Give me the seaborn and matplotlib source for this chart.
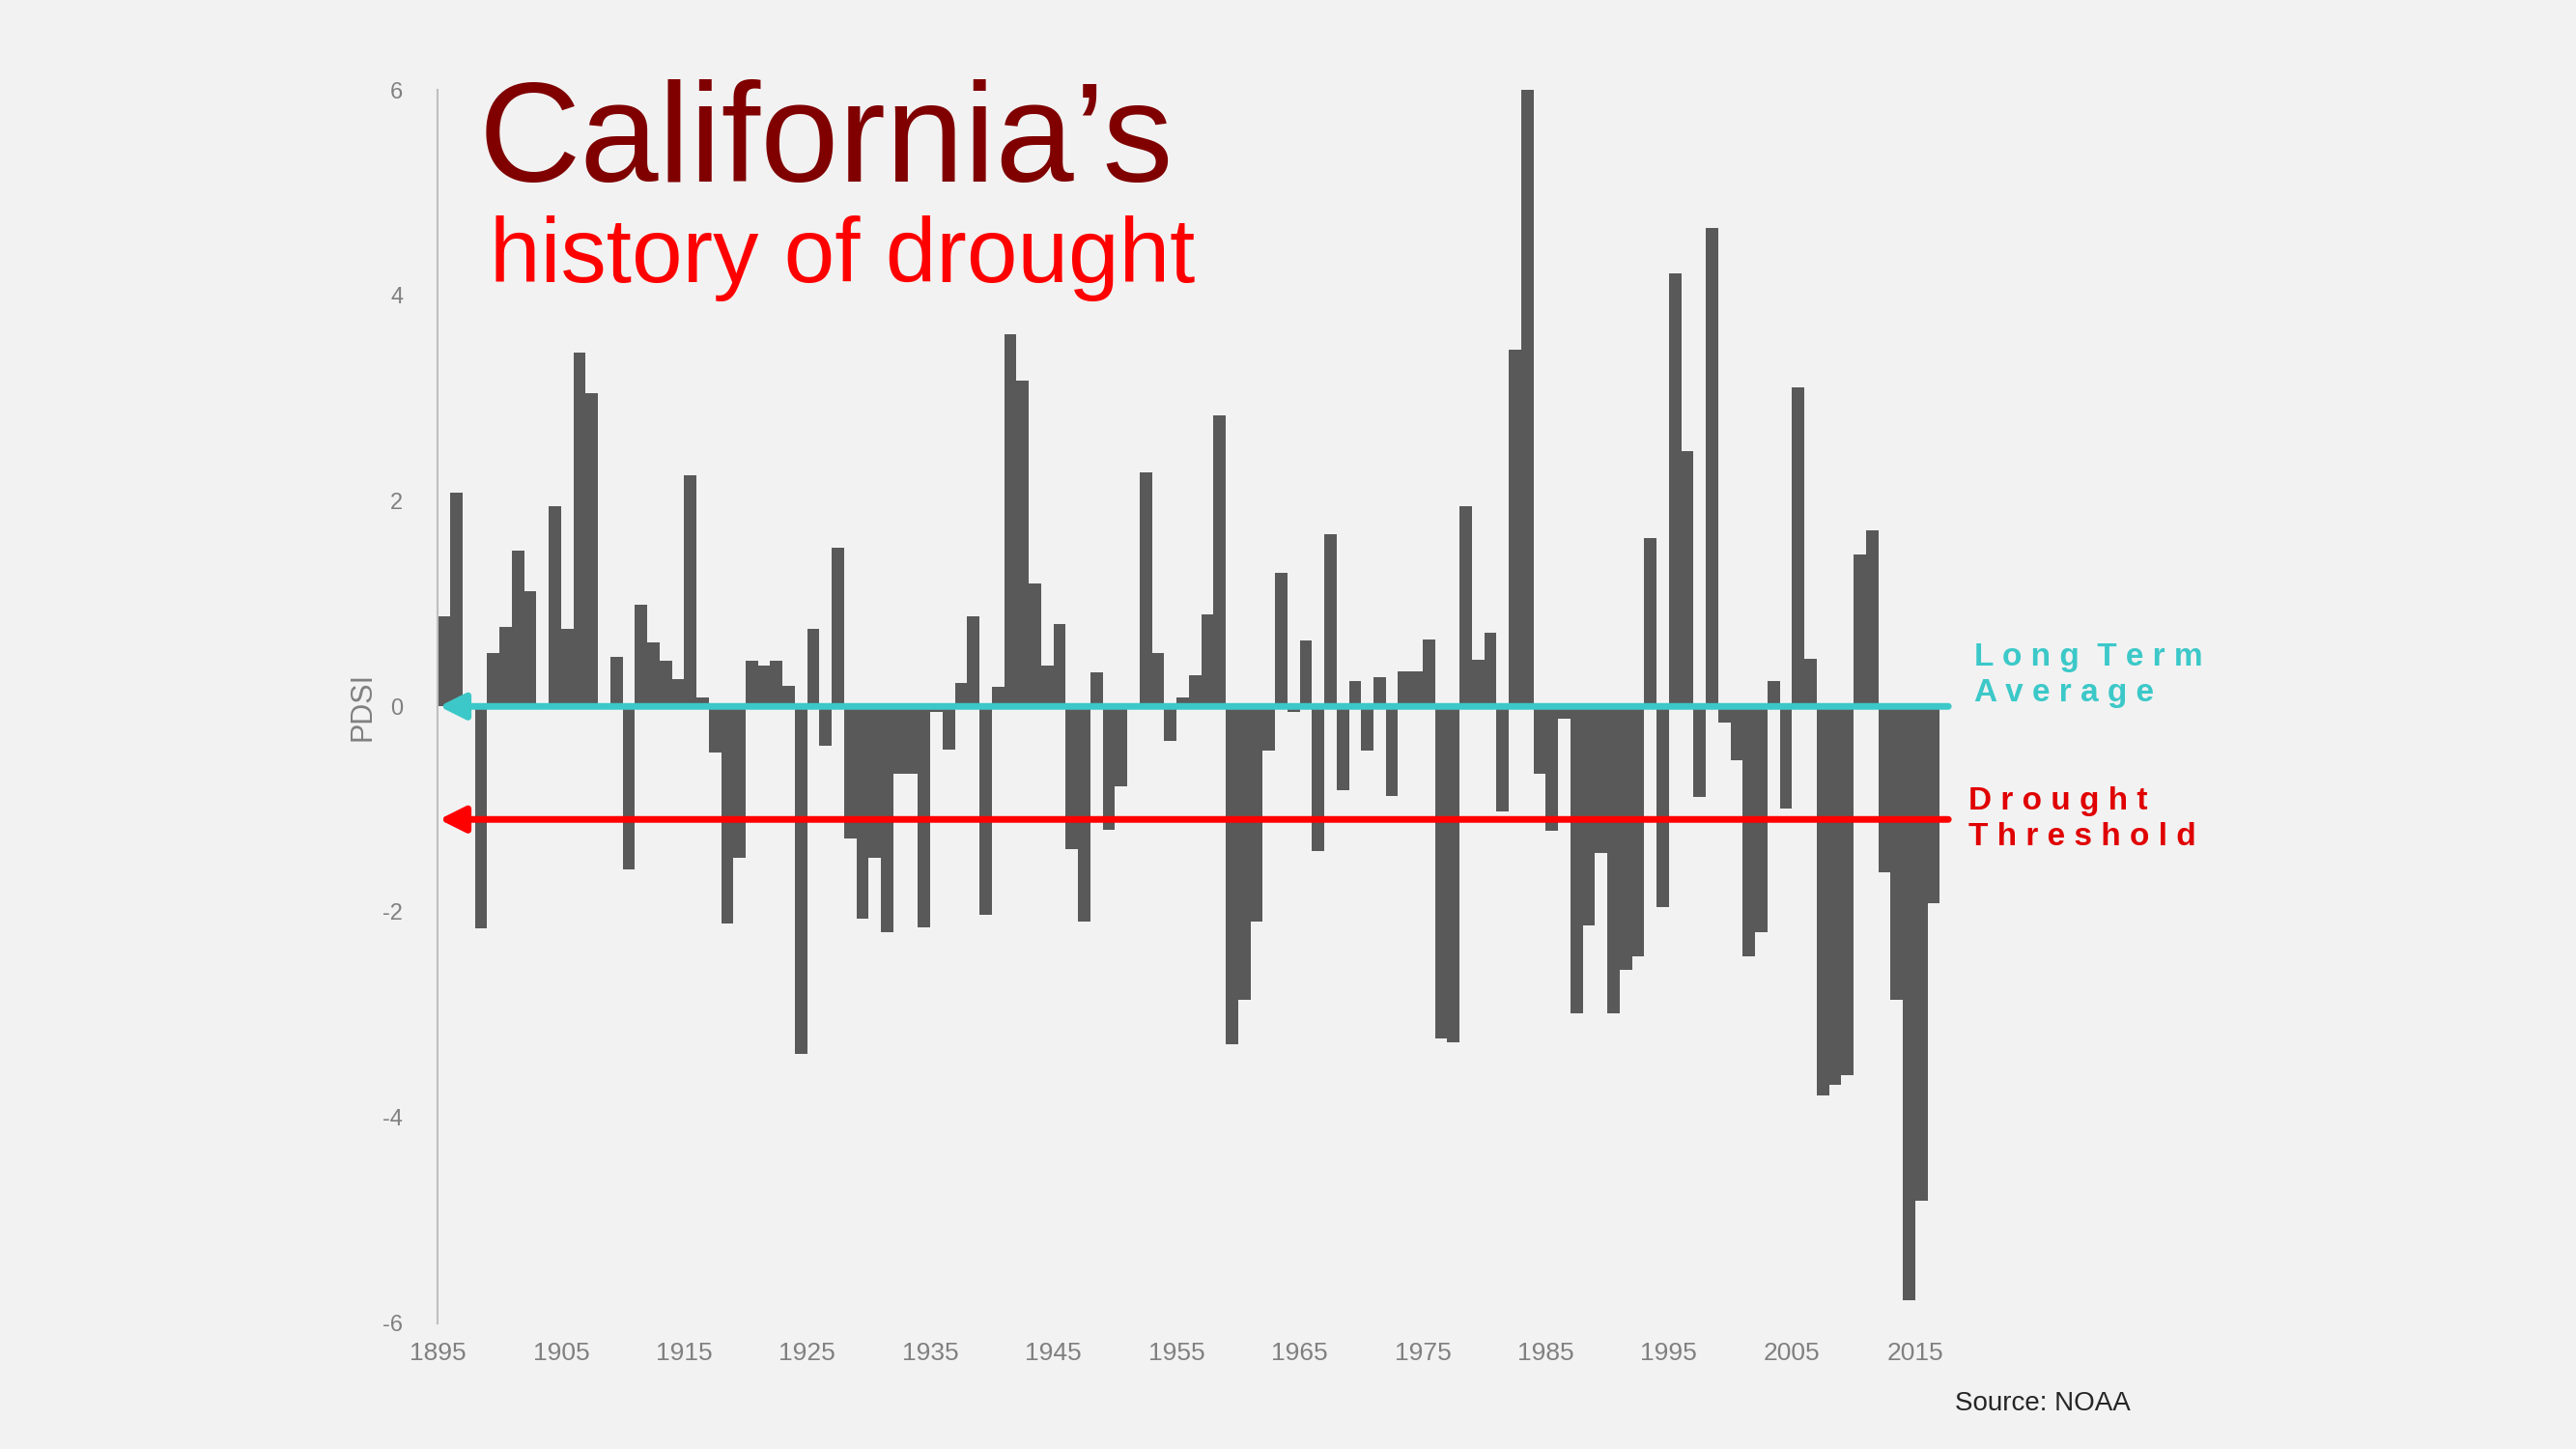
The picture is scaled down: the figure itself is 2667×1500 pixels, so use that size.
"""
California PDSI drought history bar chart.
"""

import numpy as np
import pandas as pd
import matplotlib.pyplot as plt
import seaborn as sns

# --- Annual PDSI values, 1895-2016 ---
YEARS = list(range(1895, 2017))
PDSI = [
    0.88, 2.08, 0.02, -2.16, 0.52, 0.77, 1.52, 1.12, 0.02, 1.95,
    0.75, 3.44, 3.05, 0.02, 0.48, -1.59, 0.99, 0.62, 0.44, 0.27,
    2.25, 0.09, -0.45, -2.11, -1.47, 0.44, 0.40, 0.44, 0.20, -3.38,
    0.75, -0.38, 1.54, -1.29, -2.07, -1.47, -2.20, -0.66, -0.66, -2.15,
    -0.05, -0.42, 0.23, 0.88, -2.03, 0.19, 3.62, 3.17, 1.20, 0.40,
    0.80, -1.39, -2.09, 0.33, -1.20, -0.78, 0.02, 2.28, 0.52, -0.34,
    0.09, 0.30, 0.90, 2.83, -3.29, -2.86, -2.09, -0.43, 1.30, -0.05,
    0.64, -1.41, 1.68, -0.82, 0.25, -0.43, 0.28, -0.87, 0.34, 0.34,
    0.65, -3.23, -3.27, 1.95, 0.45, 0.72, -1.02, 3.47, 6.00, -0.66,
    -1.21, -0.12, -2.99, -2.13, -1.43, -2.99, -2.56, -2.43, 1.64, -1.95,
    4.21, 2.48, -0.88, 4.66, -0.16, -0.52, -2.43, -2.20, 0.25, -0.99,
    3.10, 0.46, -3.79, -3.68, -3.59, 1.48, 1.71, -1.61, -2.86, -5.78,
    -4.81, -1.92,
]
TICK_YEARS = list(range(1895, 2016, 10))
Y_TICKS = [-6, -4, -2, 0, 2, 4, 6]
LONG_TERM_AVG = 0.0
DROUGHT_THRESHOLD = -1.1

BG = "#f2f2f2"
BAR_COLOR = "#595959"
CYAN = "#3cc8c8"
RED = "#ff0000"
DARK_RED = "#800000"
GRAY = "#808080"


def main() -> None:
    sns.set_style("white")
    plt.rcParams["font.family"] = ["Liberation Sans", "DejaVu Sans"]

    df = pd.DataFrame({"year": YEARS, "pdsi": PDSI})
    fig = plt.figure(figsize=(26.67, 15), dpi=100, facecolor=BG)
    ax = fig.add_axes([0.17, 0.087, 0.583, 0.851], facecolor=BG)

    sns.barplot(data=df, x="year", y="pdsi", color=BAR_COLOR, width=1.0,
                saturation=1, linewidth=0, ax=ax)

    n = len(YEARS)
    ax.set_xlim(-0.5, n - 0.5)
    ax.set_ylim(-6, 6)
    ax.set_xticks([YEARS.index(y) - 0.5 for y in TICK_YEARS])
    ax.set_xticklabels([str(y) for y in TICK_YEARS], fontsize=19, color=GRAY)
    ax.set_yticks(Y_TICKS)
    ax.set_yticklabels([str(v) for v in Y_TICKS], fontsize=17, color=GRAY)
    ax.tick_params(axis="x", length=0, pad=14)
    ax.tick_params(axis="y", length=8, color="#bfbfbf", direction="out", pad=18)
    ax.set_xlabel("")
    ax.set_ylabel("PDSI", fontsize=22, color=GRAY, labelpad=4)
    for side in ["top", "right", "bottom"]:
        ax.spines[side].set_visible(False)
    ax.spines["left"].set_color("#bfbfbf")
    ax.spines["left"].set_linewidth(1.5)

    # reference lines with arrows pointing left
    for yv, col in [(LONG_TERM_AVG, CYAN), (DROUGHT_THRESHOLD, RED)]:
        ax.annotate("", xy=(-0.4, yv), xytext=(n + 0.2, yv),
                    arrowprops=dict(arrowstyle="-|>", color=col, lw=5,
                                    mutation_scale=40, shrinkA=0, shrinkB=0),
                    annotation_clip=False)

    ax.text(n + 2.3, LONG_TERM_AVG + 0.3, "L o n g  T e r m\nA v e r a g e",
            color=CYAN, fontsize=24, fontweight="bold", va="center",
            linespacing=1.25)
    ax.text(n + 1.8, DROUGHT_THRESHOLD, "D r o u g h t\nT h r e s h o l d",
            color="#e00000", fontsize=24, fontweight="bold", va="center",
            linespacing=1.25)

    fig.text(0.186, 0.90, "California’s", color=DARK_RED, fontsize=105,
             va="center", ha="left")
    fig.text(0.19, 0.822, "history of drought", color=RED, fontsize=68,
             va="center", ha="left")
    fig.text(0.827, 0.031, "Source: NOAA", color="#262626", fontsize=20,
             ha="right", va="center")

    fig.savefig("out.png", dpi=100, facecolor=BG)
    plt.close(fig)


if __name__ == "__main__":
    main()
